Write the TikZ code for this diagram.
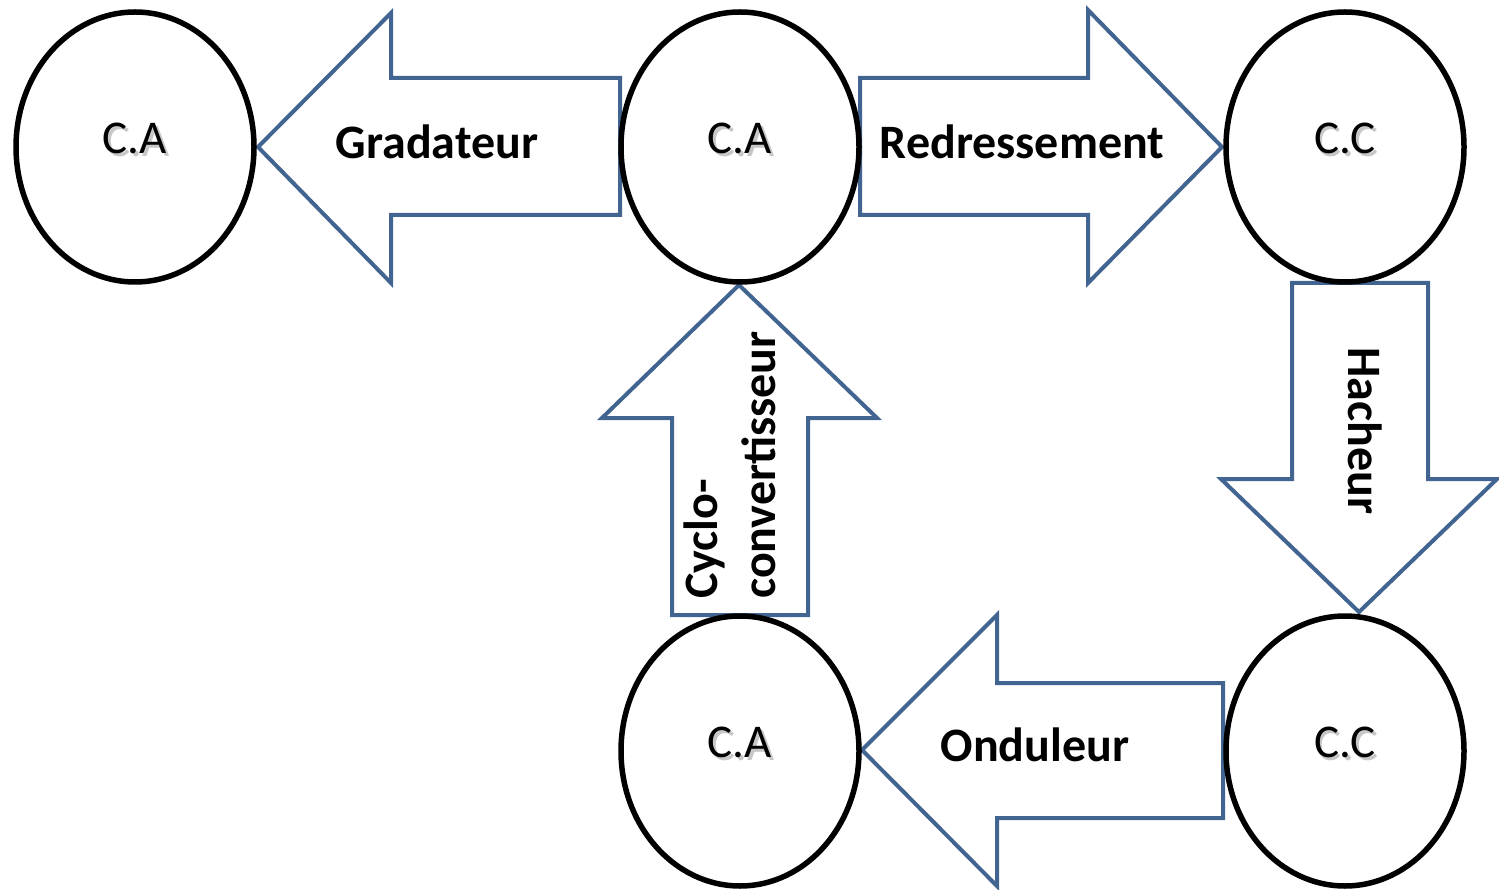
\documentclass[tikz,border=0pt]{standalone}
\usepackage{fontspec}
\setmainfont{Carlito}
\usetikzlibrary{shapes.geometric}
\definecolor{arrowblue}{RGB}{65,100,145}
\newcommand{\shtext}[1]{\rlap{\kern2.5pt\raisebox{-2.5pt}{\textcolor{black!22}{#1}}}#1}
\begin{document}
\begin{tikzpicture}[x=1pt,y=-1pt,
  conv/.style={draw=black,line width=5.5pt,ellipse,fill=white,minimum width=238pt,minimum height=270pt,inner sep=0pt},
  blockarrow/.style={draw=arrowblue,line width=4pt,fill=white,line join=miter},
  lbl/.style={font=\fontsize{48}{58}\selectfont\bfseries,inner sep=0pt},
  ctext/.style={font=\fontsize{47}{52}\selectfont,inner sep=0pt,yshift=7pt}
]
\useasboundingbox (0,0) rectangle (1499,890);
% converters (block arrows)
\filldraw[blockarrow] (258,147) -- (391,13) -- (391,78) -- (620,78) -- (620,215) -- (391,215) -- (391,283) -- cycle;
\filldraw[blockarrow] (1222,147) -- (1088,10) -- (1088,78) -- (860,78) -- (860,215) -- (1088,215) -- (1088,283) -- cycle;
\filldraw[blockarrow] (1359,612) -- (1221,479) -- (1292,479) -- (1292,283) -- (1428,283) -- (1428,479) -- (1497,479) -- cycle;
\filldraw[blockarrow] (739,285) -- (602,418) -- (672,418) -- (672,615) -- (808,615) -- (808,418) -- (877,418) -- cycle;
\filldraw[blockarrow] (862,750) -- (997,615) -- (997,683) -- (1223,683) -- (1223,818) -- (997,818) -- (997,886) -- cycle;
% sources
\node[conv] (e1) at (135,147) {};
\node[conv] (e2) at (740,147) {};
\node[conv] (e3) at (1345,147) {};
\node[conv] (e4) at (740,751) {};
\node[conv] (e5) at (1345,751) {};
\foreach \e/\t in {e1/C.A,e2/C.A,e3/C.C,e4/C.A,e5/C.C}{
  \node[ctext] (\e t) at (\e) {\shtext{\t}};
}
% labels
\node[lbl] (lgrad) at (437,142) {Gradateur};
\node[lbl] (lred) at (1022,142) {Redressement};
\node[lbl] (lond) at (1035,745) {Onduleur};
\node[lbl,rotate=-90] (lhach) at (1365,431) {Hacheur};
\node[lbl,rotate=90,align=left] (lcyc) at (730,465) {Cyclo-\\convertisseur};
\end{tikzpicture}
\end{document}
